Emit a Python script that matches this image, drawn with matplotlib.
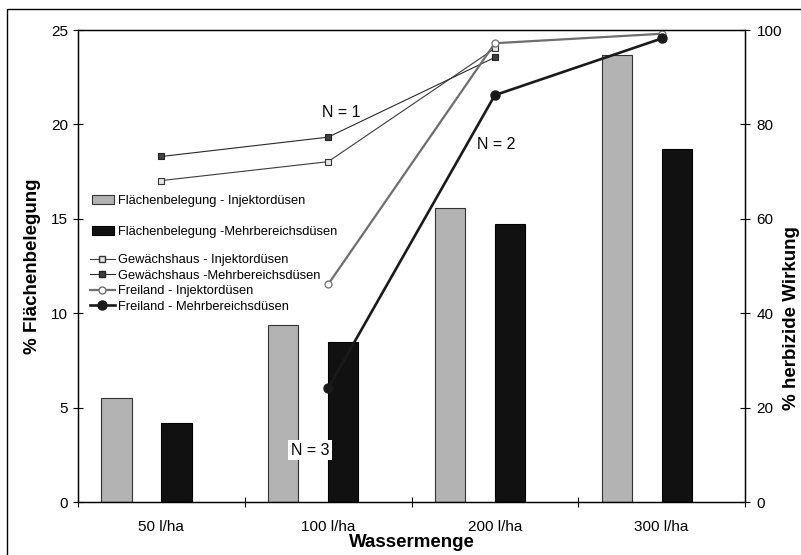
import matplotlib

matplotlib.use("Agg")

import numpy as np
import matplotlib.pyplot as plt
from matplotlib.lines import Line2D
from matplotlib.patches import Patch, Rectangle

plt.rcParams["font.family"] = ["Liberation Sans", "DejaVu Sans"]

# data
categories = ["50 l/ha", "100 l/ha", "200 l/ha", "300 l/ha"]
cover_injektor = [5.5, 9.4, 15.55, 23.7]
cover_mehrbereich = [4.2, 8.5, 14.75, 18.7]

gh_injektor = [68.1, 72.1, 96.1, np.nan]
gh_mehrbereich = [73.2, 77.3, 94.2, np.nan]
fl_injektor = [np.nan, 46.1, 97.2, 99.2]
fl_mehrbereich = [np.nan, 24.1, 86.2, 98.2]

W, H = 801, 555
fig = plt.figure(figsize=(W / 100, H / 100), dpi=100)

# outer chart frame (cropped at right / bottom like the original)
fig.patches.append(Rectangle((7 / W, -0.1), 1.1, 1 - 9 / H + 0.1, transform=fig.transFigure,
                             fill=False, edgecolor="black", linewidth=1.0))

ax_l, ax_r, ax_t, ax_b = 78, 745, 30, 502
ax = fig.add_axes([ax_l / W, 1 - ax_b / H, (ax_r - ax_l) / W, (ax_b - ax_t) / H])
ax2 = ax.twinx()

x = np.arange(len(categories))
bar_w = 0.182
ax.bar(x - 0.36, cover_injektor, width=bar_w, align="edge", color="#b3b3b3",
       edgecolor="#333333", linewidth=0.8, zorder=2)
ax.bar(x, cover_mehrbereich, width=bar_w, align="edge", color="#111111",
       edgecolor="#000000", linewidth=0.8, zorder=2)

ax.set_xlim(-0.5, len(categories) - 0.5)
ax.set_ylim(0, 25)
ax2.set_ylim(0, 100)

ax2.plot(x, gh_injektor, color="#3c3c3c", lw=0.8, marker="s", ms=5,
         mfc="#e6e6e6", mec="#333333", mew=0.8)
ax2.plot(x, gh_mehrbereich, color="#2a2a2a", lw=0.8, marker="s", ms=5,
         mfc="#404040", mec="#222222", mew=0.8)
ax2.plot(x, fl_injektor, color="#6e6e6e", lw=1.6, marker="o", ms=5,
         mfc="white", mec="#6e6e6e", mew=0.9)
ax2.plot(x, fl_mehrbereich, color="#1a1a1a", lw=1.9, marker="o", ms=6.5,
         mfc="#1a1a1a", mec="#1a1a1a")

# x axis: ticks between categories, labels in the middle
ax.set_xticks(np.arange(-0.5, len(categories)))
ax.set_xticklabels([])
ax.set_xticks(x, minor=True)
ax.set_xticklabels(categories, minor=True, fontsize=11)
ax.tick_params(axis="x", which="major", direction="inout", length=7, width=0.8)
ax.tick_params(axis="x", which="minor", length=0, pad=13)

ax.set_yticks(np.arange(0, 26, 5))
ax.tick_params(axis="y", direction="inout", length=6.5, width=0.8, labelsize=11, pad=4)
ax2.set_yticks(np.arange(0, 101, 20))
ax2.tick_params(axis="y", direction="inout", length=6.5, width=0.8, labelsize=11, pad=5)

for a in (ax, ax2):
    for s in a.spines.values():
        s.set_linewidth(0.9)

ax.set_xlabel("Wassermenge", fontsize=13.5, fontweight="bold", labelpad=0)
fig.text(33 / W, 1 - 266 / H, "% Flächenbelegung", rotation=90, ha="center", va="center",
         fontsize=13.5, fontweight="bold")
fig.text(791 / W, 1 - 318 / H, "% herbizide Wirkung", rotation=90, ha="center", va="center",
         fontsize=13.5, fontweight="bold")

# annotations
ax2.text(1.08, 82.5, "N = 1", fontsize=11.5, ha="center", va="center")
ax2.text(2.01, 75.8, "N = 2", fontsize=11.5, ha="center", va="center")
ax2.text(0.89, 11.0, "N = 3", fontsize=11.5, ha="center", va="center",
         bbox=dict(facecolor="white", edgecolor="none", pad=2))

bar_handles = [
    Patch(facecolor="#b3b3b3", edgecolor="#333333", linewidth=0.8, label="Flächenbelegung - Injektordüsen"),
    Patch(facecolor="#111111", edgecolor="#000000", linewidth=0.8, label="Flächenbelegung -Mehrbereichsdüsen"),
]
leg1 = ax2.legend(handles=bar_handles, loc="upper left", bbox_to_anchor=(92 / W, 1 - 195 / H),
                  bbox_transform=fig.transFigure, frameon=False, borderpad=0, borderaxespad=0,
                  handlelength=1.7, handleheight=0.65, handletextpad=0.3, labelspacing=1.45,
                  prop={"size": 9.3})
ax2.add_artist(leg1)

line_handles = [
    Line2D([], [], color="#3c3c3c", lw=0.8, marker="s", ms=5, mfc="#e6e6e6", mec="#333333",
           label="Gewächshaus - Injektordüsen"),
    Line2D([], [], color="#2a2a2a", lw=0.8, marker="s", ms=5, mfc="#404040", mec="#222222",
           label="Gewächshaus -Mehrbereichsdüsen"),
    Line2D([], [], color="#6e6e6e", lw=1.6, marker="o", ms=5, mfc="white", mec="#6e6e6e",
           label="Freiland - Injektordüsen"),
    Line2D([], [], color="#1a1a1a", lw=1.9, marker="o", ms=6.5, mfc="#1a1a1a", mec="#1a1a1a",
           label="Freiland - Mehrbereichsdüsen"),
]
ax2.legend(handles=line_handles, loc="upper left", bbox_to_anchor=(90 / W, 1 - 254 / H),
           bbox_transform=fig.transFigure, frameon=False, borderpad=0, borderaxespad=0,
           handlelength=1.9, handletextpad=0.25, labelspacing=0.28,
           prop={"size": 9.3})

fig.savefig("out.png", dpi=100)
